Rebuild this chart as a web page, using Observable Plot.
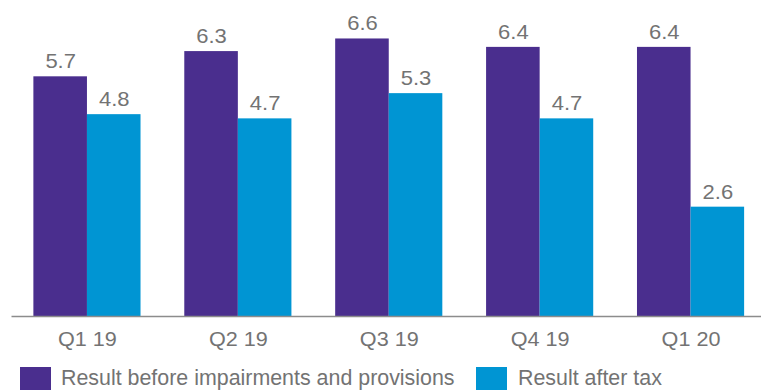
<!DOCTYPE html>
<html>
<head>
<meta charset="utf-8">
<script src="https://cdn.jsdelivr.net/npm/d3@7"></script>
<script src="https://cdn.jsdelivr.net/npm/@observablehq/plot@0.6"></script>
<style>
  html, body { margin: 0; padding: 0; background: #fff; overflow: hidden; }
  body { font-family: "Liberation Sans", Arial, sans-serif; }
  #wrap { position: relative; width: 761px; height: 390px; }
  .leg { position: absolute; top: 368px; font-size: 21.4px; line-height: 21px; color: #737373; white-space: nowrap; }
  .sw { position: absolute; top: 367px; width: 31px; height: 24px; }
</style>
</head>
<body>
<div id="wrap"></div>
<script>
const quarters = ["Q1 19", "Q2 19", "Q3 19", "Q4 19", "Q1 20"];
const seriesNames = ["Result before impairments and provisions", "Result after tax"];
const beforeImpairments = [5.7, 6.3, 6.6, 6.4, 6.4];
const afterTax = [4.8, 4.7, 5.3, 4.7, 2.6];
const colors = ["#4A2E8E", "#0095D3"];

const rowsA = quarters.map((q, i) => ({quarter: q, value: beforeImpairments[i]}));
const rowsB = quarters.map((q, i) => ({quarter: q, value: afterTax[i]}));

const W = 761, H = 360;
const mL = 11.5, mR = -5, mT = 0, mB = H - 316;
const pInner = 0.29, pOuter = 0.145;
const step = (W - mL - mR) / (quarters.length - pInner + 2 * pOuter);
const bw = step * (1 - pInner);
const half = bw / 2;

const labelColor = "#737373";

const chart = Plot.plot({
  width: W,
  height: H,
  marginLeft: mL,
  marginRight: mR,
  marginTop: mT,
  marginBottom: mB,
  style: {fontSize: "21px", fontFamily: '"Liberation Sans", Arial, sans-serif', color: labelColor, background: "transparent", overflow: "visible"},
  x: {domain: quarters, paddingInner: pInner, paddingOuter: pOuter, round: false, tickSize: 0, tickPadding: 14.5, label: null},
  y: {domain: [0, 316 / 42.05], axis: null},
  marks: [
    Plot.barY(rowsA, {x: "quarter", y: "value", fill: colors[0], insetRight: half}),
    Plot.barY(rowsB, {x: "quarter", y: "value", fill: colors[1], insetLeft: half}),
    Plot.text(rowsA, {x: "quarter", y: "value", text: d => d.value.toFixed(1), dx: -half / 2, dy: -8.5, lineAnchor: "bottom", fill: labelColor, fontSize: 20}),
    Plot.text(rowsB, {x: "quarter", y: "value", text: d => d.value.toFixed(1), dx: half / 2, dy: -8.5, lineAnchor: "bottom", fill: labelColor, fontSize: 20}),
    Plot.ruleY([0], {stroke: "#8c8c8c", strokeWidth: 1.5})
  ]
});

const wrap = document.getElementById("wrap");
wrap.appendChild(chart);
// slight horizontal stretch of the labels, as in the reference rendering
chart.querySelectorAll("g[aria-label='text'] text").forEach(t => {
  const tr = t.getAttribute("transform") || "";
  t.setAttribute("transform", (tr + " scale(1.1,1)").trim());
});
chart.querySelectorAll("g[aria-label='x-axis tick label'] text, g[aria-label='x-axis'] text").forEach(t => {
  const tr = t.getAttribute("transform") || "";
  t.setAttribute("transform", (tr + " scale(1.03,1)").trim());
});

const legendItems = [
  {name: seriesNames[0], color: colors[0], sx: 20, tx: 61},
  {name: seriesNames[1], color: colors[1], sx: 476, tx: 518}
];
for (const it of legendItems) {
  const sw = document.createElement("div");
  sw.className = "sw";
  sw.style.left = it.sx + "px";
  sw.style.background = it.color;
  wrap.appendChild(sw);
  const t = document.createElement("div");
  t.className = "leg";
  t.style.left = it.tx + "px";
  t.textContent = it.name;
  wrap.appendChild(t);
}
</script>
</body>
</html>
